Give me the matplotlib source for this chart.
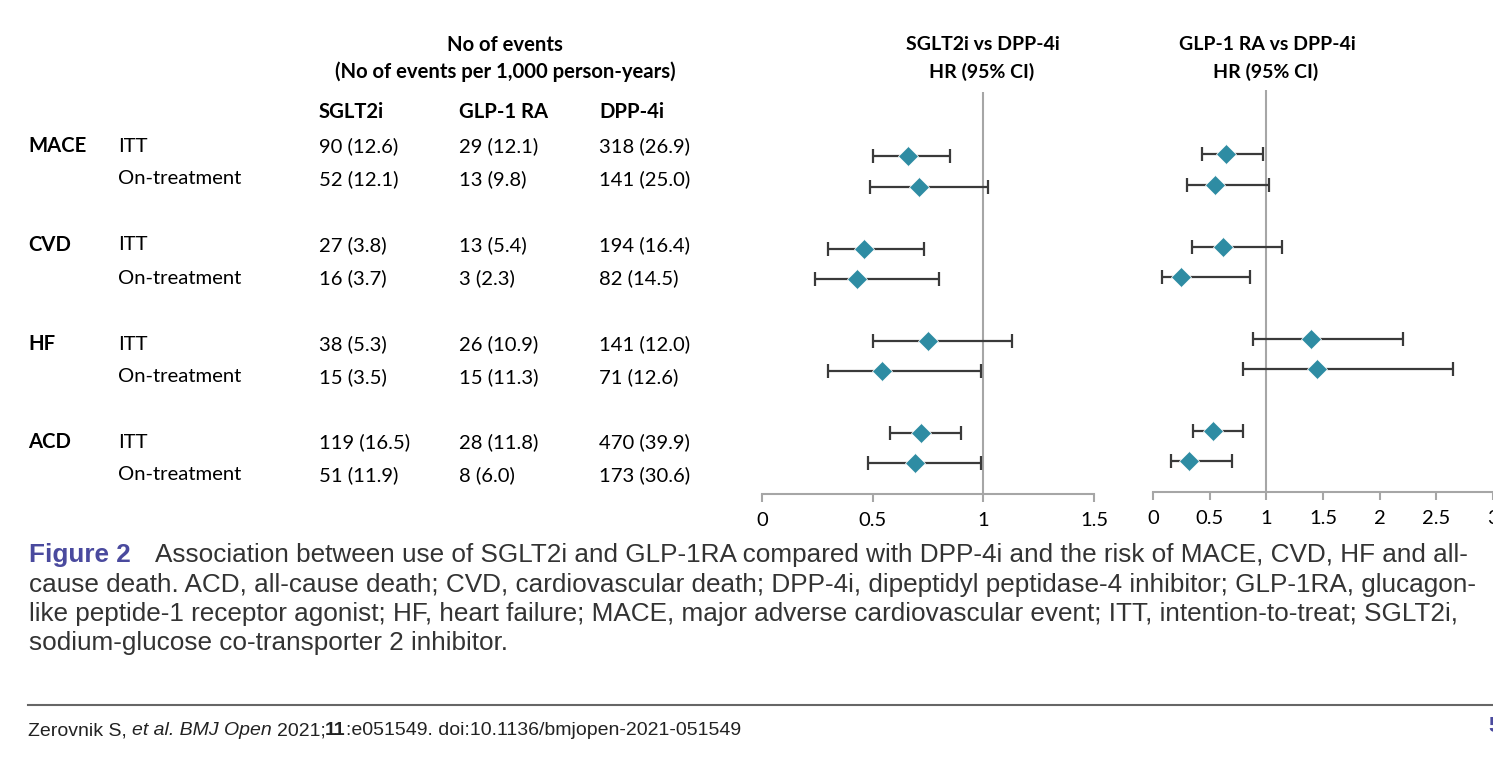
import numpy as np
import matplotlib
matplotlib.use("Agg")
import matplotlib.pyplot as plt
from matplotlib import font_manager as fm

W, H = 1493, 767

outcomes = ["MACE", "CVD", "HF", "ACD"]
analyses = ["ITT", "On-treatment"]
drug_names = ["SGLT2i", "GLP-1 RA", "DPP-4i"]

# no of events (per 1,000 person-years), rows: outcome x analysis
sglt2_events = ["90 (12.6)", "52 (12.1)", "27 (3.8)", "16 (3.7)",
                "38 (5.3)", "15 (3.5)", "119 (16.5)", "51 (11.9)"]
glp1_events = ["29 (12.1)", "13 (9.8)", "13 (5.4)", "3 (2.3)",
               "26 (10.9)", "15 (11.3)", "28 (11.8)", "8 (6.0)"]
dpp4_events = ["318 (26.9)", "141 (25.0)", "194 (16.4)", "82 (14.5)",
               "141 (12.0)", "71 (12.6)", "470 (39.9)", "173 (30.6)"]

# hazard ratios vs DPP-4i
sglt2_hr = [0.66, 0.71, 0.46, 0.43, 0.75, 0.54, 0.72, 0.69]
sglt2_lo = [0.50, 0.49, 0.30, 0.24, 0.50, 0.30, 0.58, 0.48]
sglt2_hi = [0.85, 1.02, 0.73, 0.80, 1.13, 0.99, 0.90, 0.99]
glp1_hr = [0.64, 0.55, 0.62, 0.25, 1.39, 1.45, 0.53, 0.32]
glp1_lo = [0.43, 0.30, 0.34, 0.08, 0.88, 0.79, 0.35, 0.16]
glp1_hi = [0.97, 1.02, 1.14, 0.86, 2.21, 2.65, 0.79, 0.70]

caption_lines = [
    "Association between use of SGLT2i and GLP-1RA compared with DPP-4i and the risk of MACE, CVD, HF and all-",
    "cause death. ACD, all-cause death; CVD, cardiovascular death; DPP-4i, dipeptidyl peptidase-4 inhibitor; GLP-1RA, glucagon-",
    "like peptide-1 receptor agonist; HF, heart failure; MACE, major adverse cardiovascular event; ITT, intention-to-treat; SGLT2i,",
    "sodium-glucose co-transporter 2 inhibitor.",
]

TABLE_FONT = "Lato"
CAP_FONT = "Liberation Sans"
names = {f.name for f in fm.fontManager.ttflist}
FOOT_FONT = "Liberation Sans Narrow" if "Liberation Sans Narrow" in names else "Liberation Sans"

teal = "#2E8CA3"
grey = "#A6A6A6"
purple = "#4A4A9E"
TS = 14.6  # table font size

fig = plt.figure(figsize=(W / 100, H / 100), dpi=100)


def px(x, y):
    return x / W, 1 - y / H


def ftext(x, y, s, **kw):
    kw.setdefault("va", "center")
    kw.setdefault("family", TABLE_FONT)
    kw.setdefault("fontsize", TS)
    return fig.text(*px(x, y), s, **kw)


# ---- table part ----
cols = [319, 459, 599]
ftext(505, 45, "No of events", ha="center", weight="bold")
ftext(505, 72, "(No of events per 1,000 person-years)", ha="center", weight="bold")
for name, x in zip(drug_names, cols):
    ftext(x, 112, name, weight="bold")

text_rows = [146, 179, 245, 278, 344, 377, 442, 475]
for i, yy in enumerate(text_rows):
    if i % 2 == 0:
        ftext(28, yy, outcomes[i // 2], weight="bold")
    ftext(118, yy, analyses[i % 2])
    ftext(cols[0], yy, sglt2_events[i])
    ftext(cols[1], yy, glp1_events[i])
    ftext(cols[2], yy, dpp4_events[i])

# ---- forest plots ----
ypos = np.array([g * 3 + k for g in range(len(outcomes)) for k in range(2)])


def forest(rect, hr, lo, hi, xmax):
    ax = fig.add_axes(rect)
    hr, lo, hi = np.array(hr), np.array(lo), np.array(hi)
    ax.axvline(1, color=grey, lw=1.5, zorder=1)
    ax.errorbar(hr, ypos, xerr=[hr - lo, hi - hr], fmt="none", ecolor="#3A3A3A",
                elinewidth=1.6, capsize=5, capthick=1.6, zorder=2)
    ax.plot(hr, ypos, "D", color=teal, ms=10, mec="white", mew=0.5, zorder=3)
    ax.set_xlim(0, xmax)
    ax.set_ylim(11.0, -2.1)
    ticks = np.arange(0, xmax + 0.01, 0.5)
    ax.set_xticks(ticks)
    ax.set_xticklabels([f"{t:g}" for t in ticks], family=TABLE_FONT, fontsize=14.5)
    for s in ["top", "right", "left"]:
        ax.spines[s].set_visible(False)
    ax.spines["bottom"].set_color(grey)
    ax.spines["bottom"].set_linewidth(1.5)
    ax.tick_params(axis="x", direction="out", length=6, width=1.5, color=grey, pad=7)
    ax.set_yticks([])
    ax.patch.set_alpha(0)
    return ax


forest([762 / W, 1 - 494 / H, (1094 - 762) / W, 402 / H],
       sglt2_hr, sglt2_lo, sglt2_hi, 1.5)
forest([1153 / W, 1 - 492 / H, (1493 - 1153) / W, 402 / H],
       glp1_hr, glp1_lo, glp1_hi, 3.0)

ftext(983, 45, "SGLT2i vs DPP-4i", ha="center", weight="bold", fontsize=14)
ftext(982, 72, "HR (95% CI)", ha="center", weight="bold", fontsize=14)
ftext(1267, 45, "GLP-1 RA vs DPP-4i", ha="center", weight="bold", fontsize=14)
ftext(1266, 72, "HR (95% CI)", ha="center", weight="bold", fontsize=14)

# ---- caption ----
CS = 18.8
cap_y = [555, 585, 614, 643]
ftext(29, cap_y[0], "Figure 2", family=CAP_FONT, fontsize=CS, weight="bold", color=purple)
ftext(155, cap_y[0], caption_lines[0], family=CAP_FONT, fontsize=CS, color="#333333")
for line, yy in zip(caption_lines[1:], cap_y[1:]):
    ftext(29, yy, line, family=CAP_FONT, fontsize=CS, color="#333333")

# ---- footer ----
fig.add_artist(plt.Line2D([28 / W, 1], [1 - 705 / H] * 2, color="#666666", lw=1.5))

renderer = fig.canvas.get_renderer()
footer = [("Zerovnik S,", "normal", "normal"), ("et al. BMJ Open", "normal", "italic"),
          ("2021;", "normal", "normal"), ("11", "bold", "normal"),
          (":e051549. doi:10.1136/bmjopen-2021-051549", "normal", "normal")]
gaps = [5, 5, 0, 0, 0]
x = 28
for (seg, wt, st), g in zip(footer, gaps):
    t = fig.text(*px(x, 735), seg, family=FOOT_FONT, fontsize=14, weight=wt, style=st,
                 va="baseline", color="#222222")
    x = t.get_window_extent(renderer).x1 + g
ftext(1488, 727, "5", family=FOOT_FONT, fontsize=16, weight="bold", color=purple)

fig.savefig("out.png", dpi=100)
